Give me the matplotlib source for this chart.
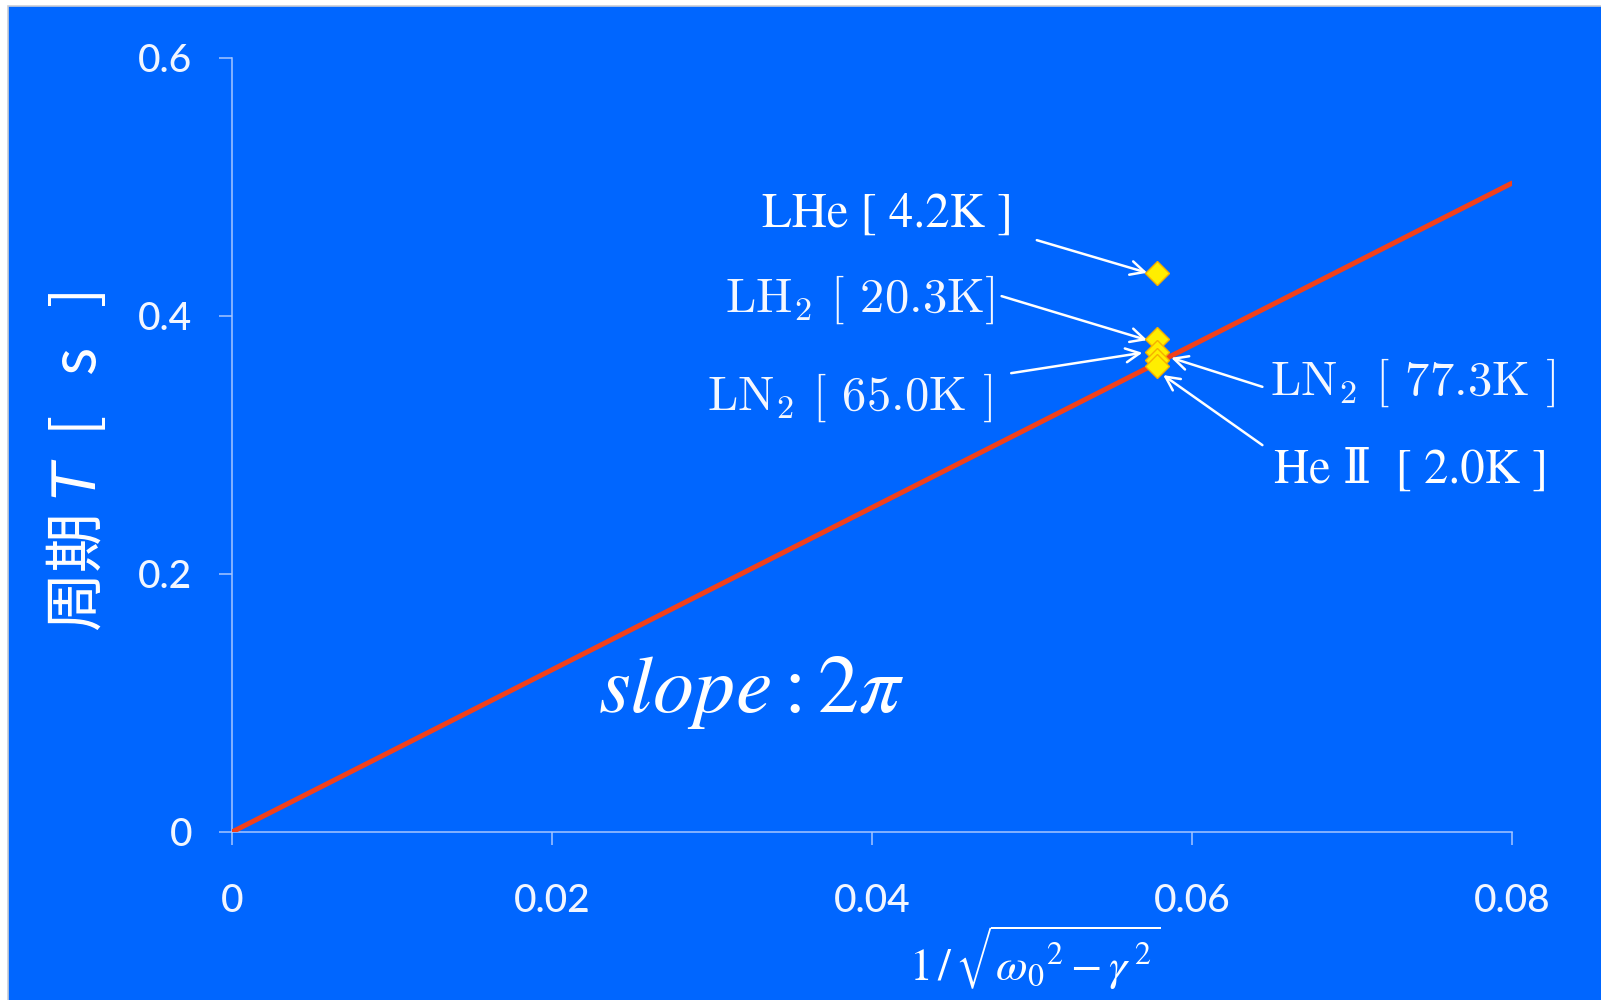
import matplotlib
matplotlib.use('Agg')
import matplotlib.pyplot as plt
from matplotlib.patches import Rectangle

plt.rcParams['mathtext.fontset'] = 'stix'

# data
line_x = [0.0, 0.08]
line_y = [0.0, 0.503]   # slope 2*pi

pt_names = ['LHe', 'LH2', 'LN2 65.0K', 'LN2 77.3K', 'HeII']
pt_x = [0.0578, 0.0578, 0.0578, 0.0578, 0.0578]
pt_y = [0.4335, 0.382, 0.372, 0.366, 0.361]

labels = ['LHe [ 4.2K ]', r'LH$_2$ [ 20.3K]', r'LN$_2$ [ 65.0K ]',
          r'LN$_2$ [ 77.3K ]', 'He \u2161  [ 2.0K ]']
label_xy = [(0.0488, 0.4689), (0.0476, 0.403), (0.0475, 0.327),
            (0.0649, 0.3387), (0.0651, 0.2705)]
label_ha = ['right', 'right', 'right', 'left', 'left']
label_cm = [False, True, True, True, False]
arrow_tail = [(0.0503, 0.4588), (0.0481, 0.4154), (0.0487, 0.3557),
              (0.0644, 0.3451), (0.0644, 0.2999)]
arrow_head = [(0.0572, 0.4335), (0.0572, 0.3813), (0.0569, 0.3715),
              (0.0587, 0.3676), (0.0582, 0.3542)]

xticks = [0, 0.02, 0.04, 0.06, 0.08]
xtick_labels = ['0', '0.02', '0.04', '0.06', '0.08']
yticks = [0, 0.2, 0.4, 0.6]
ytick_labels = ['0', '0.2', '0.4', '0.6']

BLUE = '#0066FF'
AXC = '#A6C6FF'

fig = plt.figure(figsize=(16.01, 10), dpi=100, facecolor='white')
# blue slide background, white strip left / top
fig.patches.append(Rectangle((8 / 1601, -0.01), 1.0, 1.01 - 6 / 1000,
                             transform=fig.transFigure, facecolor=BLUE,
                             edgecolor='#C9CDD6', lw=1.2, zorder=-5))
ax = fig.add_axes([232 / 1601, 1 - 832 / 1000, 1280 / 1601, 774 / 1000])
ax.set_facecolor('none')

ax.plot(line_x, line_y, color='#F2401A', lw=3.6, solid_capstyle='round', zorder=3)
ax.plot(pt_x, pt_y, 'D', color='#FFEE00', mec='#F5B000', mew=1.0, ms=12.5,
        ls='none', zorder=4, clip_on=False)

for i in range(len(labels)):
    if label_cm[i]:
        ax.text(*label_xy[i], labels[i], ha=label_ha[i], va='baseline',
                fontsize=35, color='#F4F7FF', family='cmr10', math_fontfamily='cm')
    else:
        ax.text(*label_xy[i], labels[i], ha=label_ha[i], va='baseline',
                fontsize=35, color='white', family=['STIXGeneral', 'DejaVu Serif'])
    ax.annotate('', xy=arrow_head[i], xytext=arrow_tail[i],
                arrowprops=dict(arrowstyle='->', color='white', lw=1.8,
                                shrinkA=0, shrinkB=0, mutation_scale=25))

ax.text(0.0229, 0.093, r'$slope:2\pi$', fontsize=59, color='white',
        va='baseline', ha='left')

ax.set_xlim(0, 0.08)
ax.set_ylim(0, 0.6)
for s in ['top', 'right']:
    ax.spines[s].set_visible(False)
for s in ['left', 'bottom']:
    ax.spines[s].set_color(AXC)
    ax.spines[s].set_linewidth(1.1)
ax.set_xticks(xticks)
ax.set_xticklabels(xtick_labels)
ax.set_yticks(yticks)
ax.set_yticklabels(ytick_labels)
ax.tick_params(colors=AXC, length=9.5, width=1.1, labelcolor='#F2F6FF',
               labelsize=28)
ax.tick_params(axis='x', pad=28)
ax.tick_params(axis='y', pad=19)
for lab in ax.get_xticklabels() + ax.get_yticklabels():
    lab.set_family('Lato')
    lab.set_weight('medium')

ax.set_ylabel('周期 $T$  [   s   ]', fontsize=43, color='white',
              family=['Noto Sans CJK JP', 'DejaVu Sans'],
              math_fontfamily='dejavusans', va='center')
ax.yaxis.set_label_coords(-0.1203, 0.478)
ax.set_xlabel(r'$1\,/\,\sqrt{\omega_0{}^{2}-\gamma^{\,2}}$', fontsize=33,
              color='white', va='center')
ax.xaxis.set_label_coords(0.627, -0.163)

fig.savefig('out.png', dpi=100, facecolor=fig.get_facecolor())
